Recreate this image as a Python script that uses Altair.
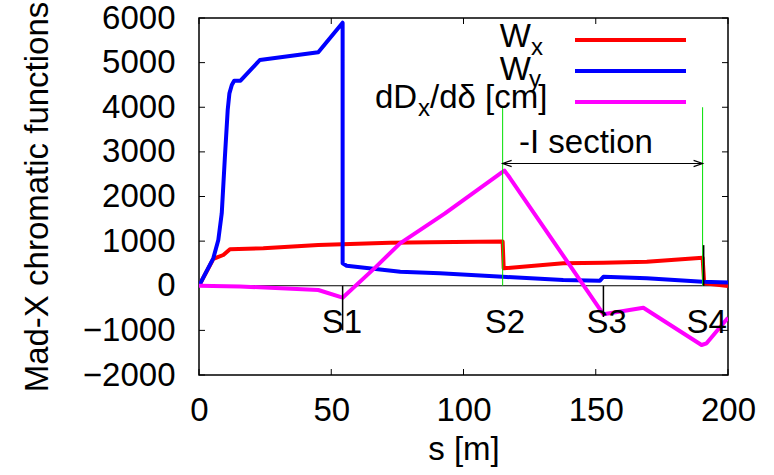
import altair as alt
import pandas as pd

FONT = "Liberation Sans"
FS = 33
W, H = 529, 357

# ---- data ----
s_wx = [0, 5.4, 6.6, 9.2, 11.7, 24.3, 45.1, 72.2, 87.3, 114.8, 115.2, 137.7, 152.9, 169.3, 190.4, 191.0, 200]
wx = [0, 600, 629, 689, 817, 840, 913, 965, 974, 990, 391, 503, 517, 539, 629, 55, -6]

s_wy = [0, 5.4, 7.3, 8.6, 9.8, 10.85, 11.5, 12.4, 13.3, 15.7, 23, 45.1, 54.3, 54.3, 55.8,
        76.1, 91.1, 114.8, 137.7, 151.6, 152.9, 169.3, 190.4, 200]
wy = [0, 615, 1025, 1624, 2892, 3938, 4312, 4499, 4595, 4595, 5059, 5231, 5895, 504, 450,
      315, 279, 200, 129, 114, 203, 167, 91, 70]

s_dd = [0, 15.5, 45.1, 54.3, 66.5, 76, 93, 114.5, 115.5, 117.5, 152.9, 168, 190, 191.9, 200]
dd = [0, -15, -95, -267, 400, 950, 1620, 2540, 2580, 2420, -640, -492, -1328, -1290, -716]

series_colors = ["#ff0000", "#0000ff", "#ff00ff"]

x_ticks = [0, 50, 100, 150, 200]
y_ticks = [-2000, -1000, 0, 1000, 2000, 3000, 4000, 5000, 6000]

# -I section markers (green) and arrow
green_s = [114.8, 190.4]
green_top = [4000, 4000]
arrow_s = [114.8, 190.4]
arrow_y = 2740
section_label = "-I section"
section_label_s = 146.3
section_label_y = 2970

# sextupole markers (black)
marker_s = [54.3, 152.9, 190.8]
marker_y1 = [0, 0, 0]
marker_y2 = [-1000, -700, 910]
s_labels = ["S1", "S2", "S3", "S4"]
s_label_s = [54, 115.7, 154.1, 191.9]
s_label_y = -1070

xs = alt.Scale(domain=[0, 200], nice=False, zero=False)
ys = alt.Scale(domain=[-2000, 6000], nice=False, zero=False)


def line_df(s, v):
    return pd.DataFrame({"s": s, "v": v, "i": list(range(len(s)))})


base_x_axis = alt.Axis(values=x_ticks, format="d", title="s [m]", labelFont=FONT, labelFontSize=FS,
                       labelColor="black", ticks=False, tickSize=0, domain=False, grid=False,
                       labelPadding=19, titleFont=FONT, titleFontSize=FS, titleFontWeight="normal",
                       titleColor="black", titleY=84, titleBaseline="alphabetic", labelFlush=False)
base_y_axis = alt.Axis(values=y_ticks, format="d", title="Mad-X chromatic functions", labelFont=FONT,
                       labelFontSize=FS, labelColor="black", ticks=False, tickSize=0, domain=False,
                       grid=False, labelPadding=24, labelBaseline="middle", titleFont=FONT,
                       titleFontSize=FS, titleFontWeight="normal", titleColor="black",
                       titleAngle=270, titleX=-152, titleY=H / 2, titleBaseline="alphabetic",
                       titleAlign="center", labelFlush=False)

# zero axis
zero = alt.Chart(pd.DataFrame({"v": [0]})).mark_rule(color="black", strokeWidth=1).encode(
    y=alt.Y("v:Q", scale=ys, axis=base_y_axis)
)

# inward ticks
ytk = pd.DataFrame({"v": y_ticks})
xtk = pd.DataFrame({"s": x_ticks})
tick_left = alt.Chart(ytk).mark_rule(color="black", strokeWidth=1).encode(
    y=alt.Y("v:Q", scale=ys), x=alt.value(0), x2=alt.value(6))
tick_right = alt.Chart(ytk).mark_rule(color="black", strokeWidth=1).encode(
    y=alt.Y("v:Q", scale=ys), x=alt.value(W - 6), x2=alt.value(W))
tick_bot = alt.Chart(xtk).mark_rule(color="black", strokeWidth=1).encode(
    x=alt.X("s:Q", scale=xs, axis=base_x_axis), y=alt.value(H - 6), y2=alt.value(H))
tick_top = alt.Chart(xtk).mark_rule(color="black", strokeWidth=1).encode(
    x=alt.X("s:Q", scale=xs), y=alt.value(0), y2=alt.value(6))


def series_layer(s, v, color):
    return alt.Chart(line_df(s, v)).mark_line(color=color, strokeWidth=4, strokeJoin="round",
                                               clip=True).encode(
        x=alt.X("s:Q", scale=xs), y=alt.Y("v:Q", scale=ys), order="i:Q")


l_wx = series_layer(s_wx, wx, series_colors[0])
l_wy = series_layer(s_wy, wy, series_colors[1])
l_dd = series_layer(s_dd, dd, series_colors[2])

green = alt.Chart(pd.DataFrame({"s": green_s, "y1": [0, 0], "y2": green_top})).mark_rule(
    color="#00e000", strokeWidth=1).encode(
    x=alt.X("s:Q", scale=xs), y=alt.Y("y1:Q", scale=ys), y2="y2:Q")

markers = alt.Chart(pd.DataFrame({"s": marker_s, "y1": marker_y1, "y2": marker_y2})).mark_rule(
    color="black", strokeWidth=1.5).encode(
    x=alt.X("s:Q", scale=xs), y=alt.Y("y1:Q", scale=ys), y2="y2:Q")

arrow = alt.Chart(pd.DataFrame({"s1": [arrow_s[0]], "s2": [arrow_s[1]], "v": [arrow_y]})).mark_rule(
    color="black", strokeWidth=1.2).encode(
    x=alt.X("s1:Q", scale=xs), x2="s2:Q", y=alt.Y("v:Q", scale=ys))
head_l = alt.Chart(pd.DataFrame({"s": [arrow_s[0]], "v": [arrow_y]})).mark_point(
    shape="M1,-0.35L0,0L1,0.35", size=324, filled=False, color="black", strokeWidth=1.2,
    opacity=1).encode(x=alt.X("s:Q", scale=xs), y=alt.Y("v:Q", scale=ys))
head_r = alt.Chart(pd.DataFrame({"s": [arrow_s[1]], "v": [arrow_y]})).mark_point(
    shape="M-1,-0.35L0,0L-1,0.35", size=324, filled=False, color="black", strokeWidth=1.2,
    opacity=1).encode(x=alt.X("s:Q", scale=xs), y=alt.Y("v:Q", scale=ys))

sec_text = alt.Chart(pd.DataFrame({"s": [section_label_s], "v": [section_label_y],
                                   "t": [section_label]})).mark_text(
    font=FONT, fontSize=FS, color="black", align="center", baseline="alphabetic").encode(
    x=alt.X("s:Q", scale=xs), y=alt.Y("v:Q", scale=ys), text="t:N")

s_text = alt.Chart(pd.DataFrame({"s": s_label_s, "v": [s_label_y] * 4, "t": s_labels})).mark_text(
    font=FONT, fontSize=FS, color="black", align="center", baseline="alphabetic").encode(
    x=alt.X("s:Q", scale=xs), y=alt.Y("v:Q", scale=ys), text="t:N")

# ---- key (top right), with subscripts ----
key_layers = []
row_y = [22, 53, 84]
row_base = [29, 62, 90]
for ry, col in zip(row_y, series_colors):
    key_layers.append(alt.Chart(pd.DataFrame({"a": [0]})).mark_rule(
        color=col, strokeWidth=4).encode(x=alt.value(376), x2=alt.value(487), y=alt.value(ry)))


def key_text(txt, x, y, size, align):
    return alt.Chart(pd.DataFrame({"t": [txt]})).mark_text(
        font=FONT, fontSize=size, color="black", align=align, baseline="alphabetic").encode(
        x=alt.value(x), y=alt.value(y), text="t:N")


key_layers += [
    key_text("W", 332, row_base[0], FS, "right"),
    key_text("x", 332, row_base[0] + 8, 24, "left"),
    key_text("W", 332, row_base[1], FS, "right"),
    key_text("y", 330, row_base[1] + 7, 24, "left"),
    key_text("dD", 176, row_base[2], FS, "left"),
    key_text("x", 219, row_base[2] + 8, 24, "left"),
    key_text("/dδ [cm]", 231, row_base[2], FS, "left"),
]

chart = alt.layer(
    zero, tick_left, tick_right, tick_bot, tick_top,
    l_wx, l_wy, l_dd,
    green, markers, arrow, head_l, head_r, sec_text, s_text,
    *key_layers
).properties(
    width=W, height=H,
    padding={"left": 199, "top": 18, "right": 46, "bottom": 100},
    autosize=alt.AutoSizeParams(type="none"),
    background="white",
).configure_view(stroke="black", strokeWidth=1.5)

chart.save("out.html", embed_options={"renderer": "svg", "actions": False})
